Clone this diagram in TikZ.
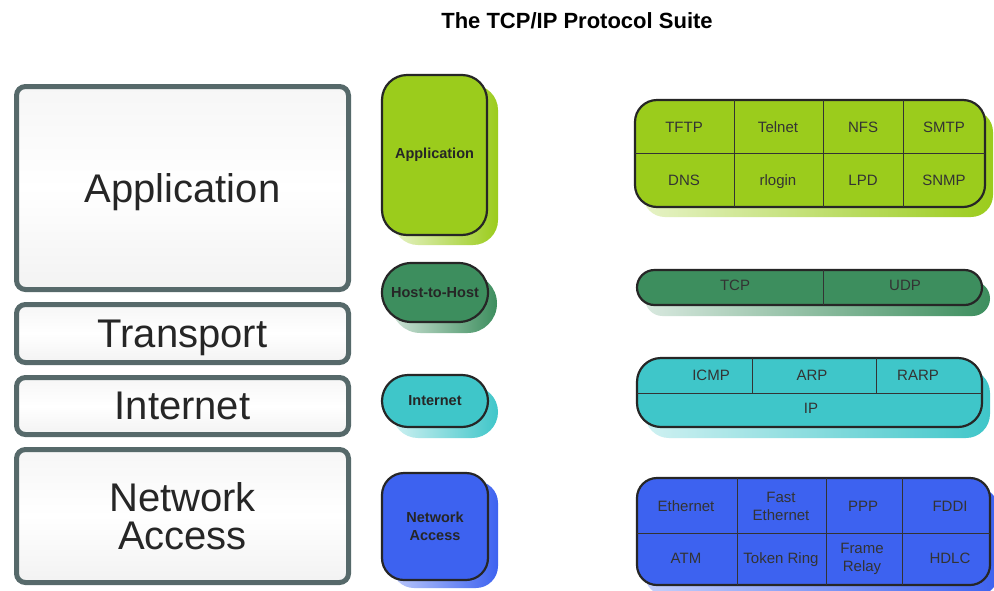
\documentclass[tikz,border=0pt]{standalone}
\usepackage{fontspec}
\setmainfont{Liberation Sans}
\usetikzlibrary{shapes.misc}
\definecolor{appg}{HTML}{9BCC1C}
\definecolor{hostg}{HTML}{3D8E5E}
\definecolor{intc}{HTML}{3FC6C9}
\definecolor{netb}{HTML}{3D62F0}
\definecolor{framec}{HTML}{56696A}
\tikzset{
  layer/.style={draw=framec, line width=5pt, rounded corners=9pt, inner sep=0pt,
    top color=gray!7, bottom color=gray!10, middle color=white, text depth=0pt,
    font=\fontsize{40}{38}\selectfont, text=black!85, align=center},
  pillbase/.style={draw=black!85, line width=2.2pt, inner sep=0pt, align=center,
    font=\bfseries\fontsize{14.5}{18}\selectfont, text=black!85},
  shadowbox/.style={draw=none, inner sep=0pt},
  tablebox/.style={draw=black!85, line width=2.2pt, inner sep=0pt},
  cellbase/.style={font=\fontsize{15}{18}\selectfont, text=black!80, align=center, inner sep=0pt},
  cell/.style={cellbase, text height=11pt, text depth=3pt},
  divider/.style={line width=0.9pt, draw=black!80},
}
\begin{document}
\begin{tikzpicture}[x=1pt,y=-1pt]
\useasboundingbox (0,0) rectangle (994,590);
\fill[white] (0,0) rectangle (994,590);

% title
\node[font=\bfseries\fontsize{22}{24}\selectfont] (title) at (577,21) {The TCP/IP Protocol Suite};

% left layers
\node[layer, minimum width=332, minimum height=203] (lApp) at (182.5,188) {Application};
\node[layer, minimum width=332, minimum height=58] (lTra) at (182.5,333.5) {Transport};
\node[layer, minimum width=332, minimum height=57] (lInt) at (182.5,406) {Internet};
\node[layer, minimum width=332, minimum height=133] (lNet) at (182.5,516) {Network\\Access};

% middle pills: shadows
\node[shadowbox, rounded corners=25pt, minimum width=105, minimum height=160, left color=appg!25, right color=appg] (mAppS) at (445.5,165) {};
\node[shadowbox, shape=rounded rectangle, minimum width=106, minimum height=59, left color=hostg!25, right color=hostg] (mHostS) at (444,303.5) {};
\node[shadowbox, shape=rounded rectangle, minimum width=106, minimum height=52, left color=intc!25, right color=intc] (mIntS) at (445,412) {};
\node[shadowbox, rounded corners=22pt, minimum width=106, minimum height=107, left color=netb!35, right color=netb] (mNetS) at (445,534.5) {};
% middle pills
\node[pillbase, fill=appg, rounded corners=25pt, minimum width=105, minimum height=160] (mApp) at (434.5,155) {Application};
\node[pillbase, fill=hostg, shape=rounded rectangle, minimum width=106, minimum height=59] (mHost) at (435,292.5) {Host-to-Host};
\node[pillbase, fill=intc, shape=rounded rectangle, minimum width=106, minimum height=52] (mInt) at (435,401) {Internet};
\node[pillbase, fill=netb, rounded corners=22pt, minimum width=106, minimum height=107] (mNet) at (435,526.5) {Network\\Access};

% right tables: shadows
\node[shadowbox, rounded corners=22pt, minimum width=350, minimum height=107, left color=appg!25, right color=appg] (rAppS) at (818,163.5) {};
\node[shadowbox, shape=rounded rectangle, minimum width=345, minimum height=35, left color=hostg!20, right color=hostg] (rTcpS) at (817.5,298.5) {};
\node[shadowbox, rounded corners=24pt, minimum width=345, minimum height=69, left color=intc!25, right color=intc] (rIntS) at (817.5,403.5) {};
\node[shadowbox, rounded corners=20pt, minimum width=353, minimum height=107, left color=netb!30, right color=netb] (rNetS) at (821.5,541.5) {};

% application table
\node[tablebox, fill=appg, rounded corners=22pt, minimum width=350, minimum height=107] (rApp) at (810,153.5) {};
\coordinate (a1t) at (734,100); \coordinate (a1b) at (734,207);
\coordinate (a2t) at (823,100); \coordinate (a2b) at (823,207);
\coordinate (a3t) at (903,100); \coordinate (a3b) at (903,207);
\coordinate (ahl) at (635,153); \coordinate (ahr) at (985,153);
\draw[divider] (a1t) -- (a1b); \draw[divider] (a2t) -- (a2b); \draw[divider] (a3t) -- (a3b);
\draw[divider] (ahl) -- (ahr);
\node[cell] (tftp) at (684,128) {TFTP};
\node[cell] (telnet) at (778,128) {Telnet};
\node[cell] (nfs) at (863,128) {NFS};
\node[cell] (smtp) at (944,128) {SMTP};
\node[cell] (dns) at (684,181) {DNS};
\node[cell] (rlogin) at (778,181) {rlogin};
\node[cell] (lpd) at (863,181) {LPD};
\node[cell] (snmp) at (944,181) {SNMP};

% transport table
\node[tablebox, fill=hostg, shape=rounded rectangle, minimum width=345, minimum height=35] (rTcp) at (809.5,287.5) {};
\coordinate (t1t) at (823,270); \coordinate (t1b) at (823,305);
\draw[divider] (t1t) -- (t1b);
\node[cell] (tcp) at (735,286) {TCP};
\node[cell] (udp) at (905,286) {UDP};

% internet table
\node[tablebox, fill=intc, rounded corners=24pt, minimum width=345, minimum height=69] (rInt) at (809.5,392.5) {};
\coordinate (i1t) at (752,358); \coordinate (i1b) at (752,393);
\coordinate (i2t) at (876,358); \coordinate (i2b) at (876,393);
\coordinate (ihl) at (637,393); \coordinate (ihr) at (982,393);
\draw[divider] (i1t) -- (i1b); \draw[divider] (i2t) -- (i2b);
\draw[divider] (ihl) -- (ihr);
\node[cell] (icmp) at (711,376) {ICMP};
\node[cell] (arp) at (812,376) {ARP};
\node[cell] (rarp) at (918,376) {RARP};
\node[cell] (ip) at (811,409) {IP};

% network access table
\node[tablebox, fill=netb, rounded corners=20pt, minimum width=353, minimum height=107] (rNet) at (813.5,531.5) {};
\coordinate (n1t) at (737,478); \coordinate (n1b) at (737,585);
\coordinate (n2t) at (826,478); \coordinate (n2b) at (826,585);
\coordinate (n3t) at (902,478); \coordinate (n3b) at (902,585);
\coordinate (nhl) at (637,533); \coordinate (nhr) at (990,533);
\draw[divider] (n1t) -- (n1b); \draw[divider] (n2t) -- (n2b); \draw[divider] (n3t) -- (n3b);
\draw[divider] (nhl) -- (nhr);
\node[cell] (eth) at (686,507) {Ethernet};
\node[cellbase] (feth) at (781,506) {Fast\\Ethernet};
\node[cell] (ppp) at (863,507) {PPP};
\node[cell] (fddi) at (950,507) {FDDI};
\node[cell] (atm) at (686,559) {ATM};
\node[cell] (token) at (781,559) {Token Ring};
\node[cellbase] (frame) at (862,559) {Frame\\Relay};
\node[cell] (hdlc) at (950,559) {HDLC};
\end{tikzpicture}
\end{document}
